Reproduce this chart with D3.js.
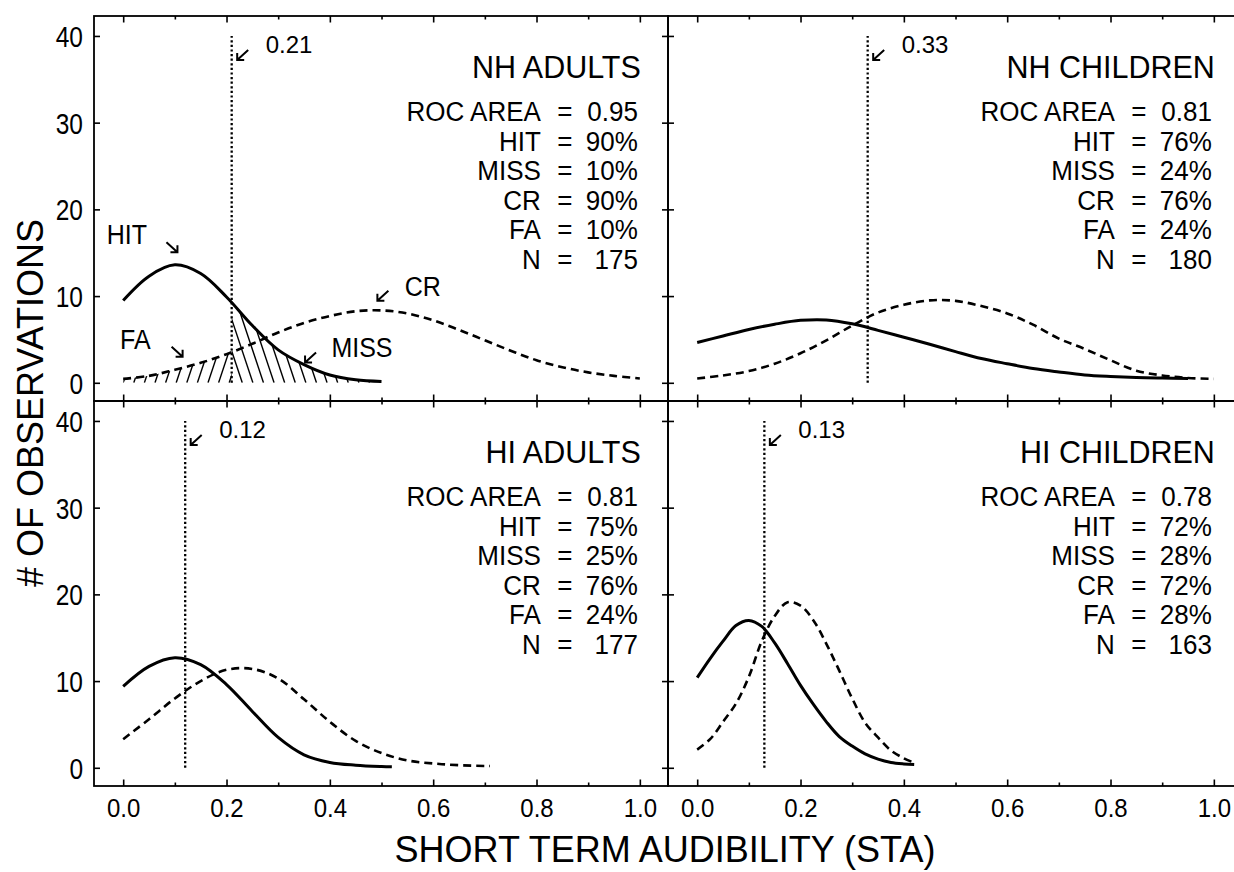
<!DOCTYPE html>
<html>
<head>
<meta charset="utf-8">
<script src="https://cdn.jsdelivr.net/npm/d3@7"></script>
<style>
  body { margin: 0; background: #fff; }
  svg { display: block; font-family: "Liberation Sans", Arial, sans-serif; }
</style>
</head>
<body>
<div id="vis"></div>
<script>
// ---- values ----
const panelNames = ["NH ADULTS", "NH CHILDREN", "HI ADULTS", "HI CHILDREN"];
const criteria = [0.21, 0.33, 0.12, 0.13];
const rocArea = ["0.95", "0.81", "0.81", "0.78"];
const hitPct = [90, 76, 75, 72];
const missPct = [10, 24, 25, 28];
const crPct = [90, 76, 76, 72];
const faPct = [10, 24, 24, 28];
const nObs = [175, 180, 177, 163];

const xTickValues = [0, 0.2, 0.4, 0.6, 0.8, 1.0];
const xMinorValues = [0.1, 0.3, 0.5, 0.7, 0.9];
const yTickValues = [0, 10, 20, 30, 40];

// [STA, # of observations]; solid = signal (HIT) curve, dashed = no-signal (CR) curve
const nhAdultsHit = [[0,9.5],[0.05,12.3],[0.1,13.6],[0.15,12.6],[0.2,9.9],[0.25,6.6],[0.3,3.8],[0.35,2.1],[0.4,0.9],[0.45,0.35],[0.5,0.15]];
const nhAdultsCr = [[0,0.45],[0.05,0.8],[0.1,1.5],[0.15,2.3],[0.2,3.3],[0.25,4.5],[0.3,5.8],[0.35,6.9],[0.4,7.7],[0.45,8.25],[0.5,8.35],[0.55,8.0],[0.6,7.2],[0.65,6.1],[0.7,4.9],[0.75,3.7],[0.8,2.6],[0.85,1.8],[0.9,1.2],[0.95,0.8],[1.0,0.5]];
const nhChildrenHit = [[0,4.65],[0.05,5.4],[0.1,6.15],[0.15,6.75],[0.2,7.2],[0.25,7.25],[0.3,6.8],[0.35,6.05],[0.4,5.25],[0.45,4.45],[0.5,3.6],[0.55,2.8],[0.6,2.2],[0.65,1.65],[0.7,1.25],[0.75,0.9],[0.8,0.72],[0.85,0.6],[0.9,0.54],[0.95,0.5]];
const nhChildrenCr = [[0,0.5],[0.05,0.85],[0.1,1.35],[0.15,2.2],[0.2,3.4],[0.25,4.9],[0.3,6.6],[0.35,8.1],[0.4,9.0],[0.45,9.5],[0.5,9.45],[0.55,8.85],[0.6,8.0],[0.65,6.7],[0.7,5.1],[0.75,3.9],[0.8,2.6],[0.85,1.4],[0.9,0.85],[0.95,0.55],[1.0,0.45]];
const hiAdultsHit = [[0,9.4],[0.05,11.7],[0.1,12.7],[0.15,11.9],[0.2,9.6],[0.25,6.5],[0.3,3.5],[0.35,1.5],[0.4,0.62],[0.45,0.3],[0.5,0.15],[0.52,0.12]];
const hiAdultsCr = [[0,3.3],[0.05,5.6],[0.1,8.0],[0.15,10.0],[0.2,11.3],[0.25,11.4],[0.3,10.3],[0.35,7.9],[0.4,5.3],[0.45,3.1],[0.5,1.7],[0.55,0.85],[0.6,0.5],[0.65,0.3],[0.71,0.2]];
const hiChildrenHit = [[0,10.4],[0.025,12.6],[0.05,14.6],[0.075,16.4],[0.1,17.0],[0.125,16.3],[0.15,14.4],[0.175,12.0],[0.2,9.5],[0.225,7.3],[0.25,5.3],[0.275,3.6],[0.3,2.5],[0.325,1.6],[0.35,1.0],[0.375,0.62],[0.4,0.45],[0.42,0.38]];
const hiChildrenCr = [[0,2.1],[0.025,3.3],[0.05,5.3],[0.075,7.4],[0.1,10.5],[0.125,14.6],[0.15,17.5],[0.175,19.1],[0.2,18.7],[0.225,17.0],[0.25,14.3],[0.275,11.2],[0.3,8.0],[0.325,5.2],[0.35,3.5],[0.375,2.0],[0.4,1.1],[0.415,0.7]];

const solidCurves = [nhAdultsHit, nhChildrenHit, hiAdultsHit, hiChildrenHit];
const dashedCurves = [nhAdultsCr, nhChildrenCr, hiAdultsCr, hiChildrenCr];

// ---- layout ----
const width = 1234, height = 872;
const frameLeft = 94, frameTop = 16, panelW = 574, panelH = 385;

const svg = d3.select("#vis").append("svg")
  .attr("width", width)
  .attr("height", height);

const x = d3.scaleLinear().domain([-0.0565, 1.0545]).range([0, panelW]);
const y = d3.scaleLinear().domain([-2.1, 42.3]).range([panelH, 0]);

const line = d3.line().x(d => x(d[0])).y(d => y(d[1])).curve(d3.curveCatmullRom);
const area = d3.area().x(d => x(d[0])).y0(y(0)).y1(d => y(d[1])).curve(d3.curveCatmullRom);

const defs = svg.append("defs");

function addText(sel, tx, ty, str, size, anchor, stretch) {
  return sel.append("text")
    .attr("transform", `translate(${tx},${ty}) scale(1,${stretch || 1})`)
    .attr("text-anchor", anchor)
    .attr("font-size", size)
    .attr("fill", "#000")
    .text(str);
}

function arrow(sel, tx, ty, sx, sy) {
  sel.append("path")
    .attr("d", `M${tx + sx * 11},${ty + sy * 10}L${tx},${ty}M${tx + sx * 7},${ty}L${tx},${ty}L${tx},${ty + sy * 7}`)
    .attr("fill", "none")
    .attr("stroke", "#000")
    .attr("stroke-width", 2);
}

// parallel hatch lines, clipped first to an x-band and then to the area under a curve
// dir = 1 gives "\" lines, dir = -1 gives "/" lines
function hatch(g, id, data, x0, x1, dir) {
  defs.append("clipPath").attr("id", id + "Band").append("rect")
    .attr("x", x0).attr("y", 0).attr("width", x1 - x0).attr("height", panelH);
  defs.append("clipPath").attr("id", id + "Area").append("path").attr("d", area(data));
  const inner = g.append("g").attr("clip-path", `url(#${id}Band)`)
    .append("g").attr("clip-path", `url(#${id}Area)`);
  const step = 10.6, rise = 150;
  inner.selectAll("line")
    .data(d3.range(-20, 60))
    .join("line")
    .attr("x1", k => x0 + k * step)
    .attr("y1", y(0))
    .attr("x2", k => x0 + k * step - dir * rise / 3)
    .attr("y2", y(0) - rise)
    .attr("stroke", "#000")
    .attr("stroke-width", 1.4);
}

panelNames.forEach((name, i) => {
  const col = i % 2, row = Math.floor(i / 2);
  const g = svg.append("g")
    .attr("transform", `translate(${frameLeft + col * panelW},${frameTop + row * panelH})`);

  // frame
  g.append("rect")
    .attr("width", panelW).attr("height", panelH)
    .attr("fill", "none").attr("stroke", "#000").attr("stroke-width", 1.8);

  // ticks (all pointing inward)
  const bottomAx = g.append("g").attr("transform", `translate(0,${panelH})`)
    .call(d3.axisBottom(x).tickValues(xTickValues).tickSize(-6.5).tickFormat(d3.format(".1f")));
  g.append("g").attr("transform", `translate(0,${panelH})`)
    .call(d3.axisBottom(x).tickValues(xMinorValues).tickSize(-3.5).tickFormat(""));
  g.append("g").call(d3.axisTop(x).tickValues(xTickValues).tickSize(-6.5).tickFormat(""));
  g.append("g").call(d3.axisTop(x).tickValues(xMinorValues).tickSize(-3.5).tickFormat(""));
  const leftAx = g.append("g")
    .call(d3.axisLeft(y).tickValues(yTickValues).tickSize(-6));
  g.append("g").attr("transform", `translate(${panelW},0)`)
    .call(d3.axisRight(y).tickValues(yTickValues).tickSize(-6).tickFormat(""));

  g.selectAll(".domain").remove();
  g.selectAll(".tick line").attr("stroke", "#000").attr("stroke-width", 1.6);

  if (row === 1) {
    bottomAx.selectAll("text")
      .attr("y", 0).attr("dy", 0)
      .attr("transform", "translate(0,31) scale(1,1.05)")
      .attr("font-size", 24).attr("fill", "#000");
  } else {
    bottomAx.selectAll("text").remove();
  }
  if (col === 0) {
    leftAx.selectAll("text")
      .attr("x", 0).attr("dy", 0)
      .attr("transform", "translate(-11,10.5) scale(1,1.2)")
      .attr("font-size", 24.5).attr("fill", "#000");
  } else {
    leftAx.selectAll("text").remove();
  }
  bottomAx.attr("font-family", null);
  leftAx.attr("font-family", null);

  // MISS ("\") / FA ("/") hatching in the NH adults panel
  if (i === 0) {
    const cr = x(criteria[i]);
    hatch(g, "miss", solidCurves[i], cr, panelW, 1);
    hatch(g, "fa", dashedCurves[i], x(0), cr, -1);
  }

  // criterion line
  g.append("line")
    .attr("x1", x(criteria[i])).attr("x2", x(criteria[i]))
    .attr("y1", y(0)).attr("y2", y(40))
    .attr("stroke", "#000").attr("stroke-width", 2.3)
    .attr("stroke-dasharray", "2.2,2.4");

  // distributions
  g.append("path")
    .attr("d", line(dashedCurves[i]))
    .attr("fill", "none").attr("stroke", "#000").attr("stroke-width", 2.6)
    .attr("stroke-dasharray", "8,5");
  g.append("path")
    .attr("d", line(solidCurves[i]))
    .attr("fill", "none").attr("stroke", "#000").attr("stroke-width", 3);

  // criterion label
  arrow(g, x(criteria[i]) + 5.5, y(40) + 24, 1, -1);
  addText(g, x(criteria[i]) + 34, y(40) + 17.5, criteria[i].toFixed(2), 24, "start", 1);

  // title and stats
  const xr = x(1);
  addText(g, xr + 1, 62, name, 30.5, "end", 1.05);
  const stats = [
    ["ROC AREA", rocArea[i]],
    ["HIT", hitPct[i] + "%"],
    ["MISS", missPct[i] + "%"],
    ["CR", crPct[i] + "%"],
    ["FA", faPct[i] + "%"],
    ["N", String(nObs[i])]
  ];
  stats.forEach((s, k) => {
    const by = 105 + k * 29.6;
    addText(g, xr - 99, by, s[0], 26, "end", 1.07);
    addText(g, xr - 75, by, "=", 26, "middle", 1.07);
    addText(g, xr - 2, by, s[1], 26, "end", 1.07);
  });

  // HIT / FA / CR / MISS call-outs
  if (i === 0) {
    arrow(g, x(0.105), y(15.05), -1, -1);
    addText(g, x(-0.032), y(16.05), "HIT", 25, "start", 1.08);
    arrow(g, x(0.115), y(3.0), -1, -1);
    addText(g, x(-0.006), y(3.93), "FA", 25, "start", 1.08);
    arrow(g, x(0.492), y(9.47), 1, -1);
    addText(g, x(0.545), y(10.05), "CR", 25, "start", 1.08);
    arrow(g, x(0.352), y(2.34), 1, -1);
    addText(g, x(0.403), y(3.0), "MISS", 25, "start", 1.08);
  }
});

// axis titles
addText(svg, 665, 862, "SHORT TERM AUDIBILITY (STA)", 36, "middle", 1);
svg.append("text")
  .attr("transform", "translate(43,403) rotate(-90)")
  .attr("text-anchor", "middle")
  .attr("font-size", 36)
  .text("# OF OBSERVATIONS");
</script>
</body>
</html>
